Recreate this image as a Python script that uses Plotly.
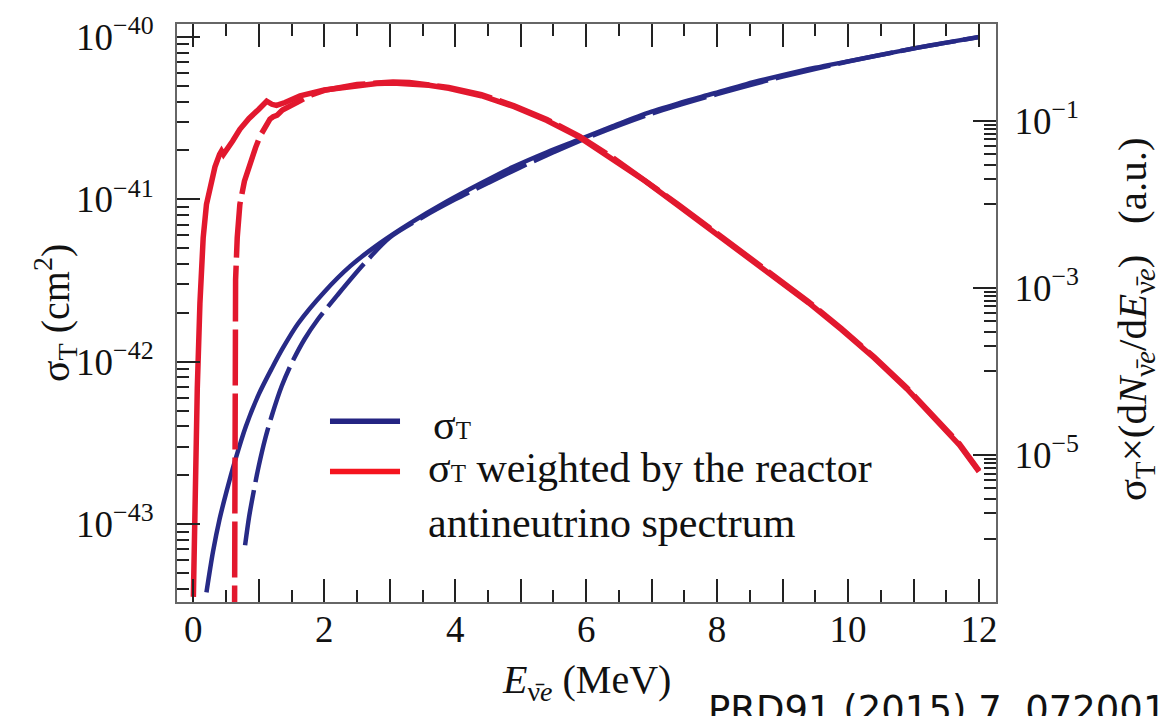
import plotly.graph_objects as go

# Energy grid (MeV) and total cross section sigma_T (cm^2)
E_sigma = [0.20, 0.30, 0.40, 0.50, 0.636, 0.80, 1.00, 1.20, 1.37, 1.60, 2.00,
           2.40, 2.85, 3.30, 3.865, 4.40, 4.88, 5.40, 5.90, 6.40, 6.92, 7.40,
           7.93, 8.45, 8.95, 9.50, 10.0, 10.5, 11.0, 11.5, 12.0]
sigma_T = [3.80e-44, 6.76e-44, 1.07e-43, 1.55e-43, 2.45e-43, 3.98e-43, 6.31e-43,
           9.12e-43, 1.22e-42, 1.72e-42, 2.69e-42, 3.89e-42, 5.37e-42, 7.08e-42,
           9.66e-42, 1.26e-41, 1.58e-41, 1.95e-41, 2.34e-41, 2.82e-41, 3.39e-41,
           3.89e-41, 4.47e-41, 5.13e-41, 5.75e-41, 6.46e-41, 7.08e-41, 7.76e-41,
           8.51e-41, 9.23e-41, 1.00e-40]

E_sigma_alt = [0.79, 0.85, 0.92, 1.00, 1.10, 1.20, 1.35, 1.50, 1.70, 1.90, 2.20,
               2.60, 3.00, 3.50, 4.00, 4.50, 5.00, 5.50, 6.00, 7.00, 8.00, 9.00,
               10.0, 11.0, 12.0]
sigma_T_alt = [7.41e-44, 1.10e-43, 1.58e-43, 2.29e-43, 3.39e-43, 4.68e-43,
               7.08e-43, 9.77e-43, 1.38e-42, 1.82e-42, 2.57e-42, 3.98e-42,
               5.82e-42, 7.76e-42, 1.00e-41, 1.26e-41, 1.58e-41, 1.95e-41,
               2.38e-41, 3.37e-41, 4.45e-41, 5.70e-41, 7.06e-41, 8.49e-41,
               9.98e-41]

# sigma_T weighted by the reactor antineutrino spectrum (a.u.)
E_weighted = [0.00, 0.03, 0.06, 0.10, 0.15, 0.20, 0.26, 0.33, 0.40, 0.43, 0.46,
              0.52, 0.60, 0.71, 0.85, 1.00, 1.12, 1.20, 1.27, 1.40, 1.63, 2.00,
              2.50, 2.80, 3.05, 3.30, 3.60, 3.90, 4.40, 4.90, 5.40, 5.90, 6.40,
              6.90, 7.40, 7.90, 8.40, 8.90, 9.40, 9.90, 10.40, 10.90, 11.40,
              11.70, 12.00]
weighted = [2.0e-7, 5.0e-6, 6.3e-5, 6.5e-4, 4.0e-3, 1.0e-2, 1.58e-2, 2.82e-2,
            3.98e-2, 4.37e-2, 3.98e-2, 4.57e-2, 5.75e-2, 7.94e-2, 0.107, 0.138,
            0.172, 0.158, 0.153, 0.166, 0.200, 0.234, 0.263, 0.280, 0.285,
            0.281, 0.267, 0.245, 0.200, 0.148, 0.101, 0.0635, 0.0355, 0.0191,
            9.77e-3, 5.01e-3, 2.57e-3, 1.32e-3, 6.61e-4, 3.16e-4, 1.45e-4,
            6.17e-5, 2.40e-5, 1.32e-5, 6.31e-6]

E_weighted_alt = [0.625, 0.635, 0.645, 0.67, 0.71, 0.78, 0.865, 0.95, 1.02, 1.10,
                  1.17, 1.22, 1.28, 1.36, 1.475, 1.63, 1.80, 2.00, 2.50, 2.80,
                  3.05, 3.30, 3.60, 3.90, 4.40, 4.90, 5.40, 5.90, 6.40, 6.90,
                  7.40, 7.90, 8.40, 8.90, 9.40, 9.90, 10.40, 10.90, 11.40,
                  11.70, 12.00]
weighted_alt = [1.0e-8, 2.5e-4, 1.26e-3, 4.0e-3, 1.0e-2, 1.9e-2, 3.16e-2,
                4.79e-2, 6.6e-2, 8.7e-2, 0.105, 0.112, 0.117, 0.135, 0.148,
                0.174, 0.204, 0.232, 0.272, 0.289, 0.293, 0.289, 0.275, 0.252,
                0.206, 0.152, 0.104, 0.0653, 0.0365, 0.0196, 0.01005, 5.15e-3,
                2.64e-3, 1.36e-3, 6.80e-4, 3.25e-4, 1.49e-4, 6.34e-5, 2.47e-5,
                1.36e-5, 6.49e-6]

x_ticks = list(range(0, 13))
x_ticktext = [str(v) if v % 2 == 0 else "" for v in x_ticks]
left_major = [1e-43, 1e-42, 1e-41, 1e-40]
left_labels = ["10<sup>\u221243</sup>", "10<sup>\u221242</sup>",
               "10<sup>\u221241</sup>", "10<sup>\u221240</sup>"]
right_major = [1e-1, 1e-3, 1e-5]
right_labels = ["10<sup>\u22121</sup>", "10<sup>\u22123</sup>", "10<sup>\u22125</sup>"]

left_minor = [k * 10.0 ** d for d in range(-44, -40) for k in range(2, 10)]
right_minor = [k * 10.0 ** d for d in (-2, -4, -6) for k in range(1, 10)]

BLUE = "#272A86"
RED = "#E2182E"
SERIF = "Liberation Serif"
FS = 37
DASH = "56px,8px"

fig = go.Figure()
fig.add_trace(go.Scatter(x=E_sigma, y=sigma_T, mode="lines",
                         line=dict(color=BLUE, width=4.5, shape="spline",
                                   smoothing=0.8), yaxis="y"))
fig.add_trace(go.Scatter(x=E_sigma_alt, y=sigma_T_alt, mode="lines",
                         line=dict(color=BLUE, width=4.5, dash=DASH,
                                   shape="spline", smoothing=0.8), yaxis="y"))
fig.add_trace(go.Scatter(x=E_weighted, y=weighted, mode="lines",
                         line=dict(color=RED, width=5.5), yaxis="y2"))
fig.add_trace(go.Scatter(x=E_weighted_alt, y=weighted_alt, mode="lines",
                         line=dict(color=RED, width=5.5, dash=DASH),
                         yaxis="y2"))

axis_line = dict(showline=True, linecolor="#666666", linewidth=2,
                 ticks="inside", tickcolor="#222222", tickwidth=1.6,
                 showgrid=False, zeroline=False,
                 tickfont=dict(family=SERIF, size=FS, color="#111111"))

fig.update_layout(
    width=1160, height=716,
    margin=dict(l=177, r=164, t=17, b=114, pad=0),
    paper_bgcolor="white", plot_bgcolor="white",
    showlegend=False,
    font=dict(family=SERIF, size=FS, color="#111111"),
    xaxis=dict(range=[-0.25, 12.26], tickmode="array", tickvals=x_ticks,
               ticktext=x_ticktext, ticklen=23, mirror="ticks",
               ticklabelstandoff=-6,
               minor=dict(dtick=0.5, ticks="inside", ticklen=12,
                          tickcolor="#222222", tickwidth=1.6),
               **axis_line),
    yaxis=dict(type="log", range=[-43.48, -39.92], tickmode="array",
               tickvals=left_major, ticktext=left_labels, ticklen=23,
               ticklabelstandoff=14,
               minor=dict(tickmode="array", tickvals=left_minor, ticks="inside",
                          ticklen=12, tickcolor="#222222", tickwidth=1.6),
               **axis_line),
    yaxis2=dict(type="log", range=[-6.76, 0.16], overlaying="y", side="right",
                tickmode="array", tickvals=right_major, ticktext=right_labels,
                ticklen=23, ticklabelstandoff=9,
                minor=dict(tickmode="array", tickvals=right_minor,
                           ticks="inside", ticklen=12, tickcolor="#222222",
                           tickwidth=1.6),
                **axis_line),
)

# Axis titles
fig.add_annotation(xref="paper", yref="paper", x=-0.149, y=0.50,
                   xanchor="center", yanchor="middle",
                   text="\u03c3<sub>T</sub> (cm<sup>2</sup>)", textangle=-90,
                   showarrow=False, font=dict(family=SERIF, size=40))
fig.add_annotation(xref="paper", yref="paper", x=1.170, y=0.49,
                   xanchor="center", yanchor="middle",
                   text="\u03c3<sub>T</sub>\u00d7(d<i>N</i><sub>\u03bd\u0304<i>e</i></sub>/d<i>E</i><sub>\u03bd\u0304<i>e</i></sub>)\u2002 (a.u.)",
                   textangle=-90, showarrow=False,
                   font=dict(family=SERIF, size=41))
fig.add_annotation(xref="paper", yref="paper", x=0.5006, y=-0.138,
                   xanchor="center", yanchor="middle",
                   text="<i>E</i><sub>\u03bd\u0304<i>e</i></sub> (MeV)",
                   showarrow=False, font=dict(family=SERIF, size=40))

# Reference note
fig.add_annotation(xref="paper", yref="paper", x=0.646, y=-0.1863,
                   xanchor="left", yanchor="middle",
                   text="PRD91 (2015) 7, 072001", showarrow=False,
                   font=dict(family="DejaVu Sans", size=37, color="#111111"))

# Legend
fig.add_shape(type="line", xref="paper", yref="paper", x0=0.1868, x1=0.2723,
              y0=0.3128, y1=0.3128, line=dict(color="#242482", width=5.5))
fig.add_shape(type="line", xref="paper", yref="paper", x0=0.1868, x1=0.2723,
              y0=0.2256, y1=0.2256, line=dict(color="#F5141E", width=5.5))
fig.add_annotation(xref="paper", yref="paper", x=0.310, y=0.306,
                   xanchor="left", yanchor="middle", showarrow=False,
                   text="\u03c3<span style='font-size:25px'>T</span>",
                   font=dict(family=SERIF, size=42))
fig.add_annotation(xref="paper", yref="paper", x=0.3035, y=0.1838,
                   xanchor="left", yanchor="middle", showarrow=False, align="left",
                   text="\u03c3<span style='font-size:25px'>T</span> weighted by the reactor<br>antineutrino spectrum",
                   font=dict(family=SERIF, size=42))

fig.write_html("out.html")
